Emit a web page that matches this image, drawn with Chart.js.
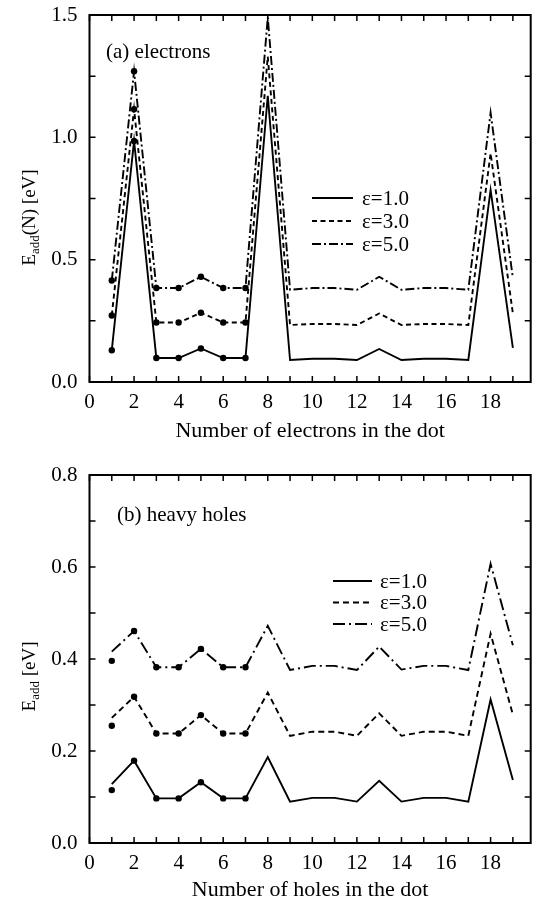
<!DOCTYPE html>
<html>
<head>
<meta charset="utf-8">
<script src="https://cdn.jsdelivr.net/npm/chart.js@4.4.0/dist/chart.umd.min.js"></script>
<style>
  html, body { margin: 0; padding: 0; background: #fff; }
  canvas { display: block; position: absolute; left: 0; }
  #chartA { top: 0; }
  #chartB { top: 450px; }
</style>
</head>
<body>
<canvas id="chartA" width="537" height="450"></canvas>
<canvas id="chartB" width="537" height="453"></canvas>
<script>
// number of particles in the dot
var particleCount = [1, 2, 3, 4, 5, 6, 7, 8, 9, 10, 11, 12, 13, 14, 15, 16, 17, 18, 19];
var dotCount = [1, 2, 3, 4, 5, 6, 7];
var xTickValues = [0, 2, 4, 6, 8, 10, 12, 14, 16, 18];
var seriesLabels = ['ε=1.0', 'ε=3.0', 'ε=5.0'];

// (a) electrons, addition energy in eV
var electronsEps1 = [0.13, 0.985, 0.098, 0.098, 0.137, 0.098, 0.098, 1.17, 0.09, 0.095, 0.095, 0.09, 0.135, 0.09, 0.095, 0.095, 0.09, 0.785, 0.139];
var electronsEps3 = [0.272, 1.115, 0.243, 0.243, 0.283, 0.243, 0.243, 1.33, 0.233, 0.237, 0.237, 0.233, 0.28, 0.233, 0.237, 0.237, 0.233, 0.935, 0.28];
var electronsEps5 = [0.415, 1.27, 0.384, 0.384, 0.43, 0.384, 0.384, 1.49, 0.377, 0.384, 0.384, 0.377, 0.43, 0.377, 0.384, 0.384, 0.377, 1.10, 0.425];
var electronDotsEps1 = [0.13, 0.985, 0.098, 0.098, 0.137, 0.098, 0.098];
var electronDotsEps3 = [0.272, 1.115, 0.243, 0.243, 0.283, 0.243, 0.243];
var electronDotsEps5 = [0.415, 1.27, 0.384, 0.384, 0.43, 0.384, 0.384];

// (b) heavy holes
var holesEps1 = [0.128, 0.179, 0.097, 0.097, 0.132, 0.097, 0.097, 0.187, 0.09, 0.098, 0.098, 0.09, 0.135, 0.09, 0.098, 0.098, 0.09, 0.312, 0.137];
var holesEps3 = [0.272, 0.318, 0.238, 0.238, 0.278, 0.238, 0.238, 0.327, 0.233, 0.242, 0.242, 0.233, 0.282, 0.233, 0.242, 0.242, 0.233, 0.455, 0.279];
var holesEps5 = [0.416, 0.461, 0.382, 0.382, 0.422, 0.382, 0.382, 0.472, 0.376, 0.385, 0.385, 0.376, 0.427, 0.377, 0.385, 0.385, 0.376, 0.607, 0.43];
var holeDotsEps1 = [0.115, 0.179, 0.097, 0.097, 0.132, 0.097, 0.097];
var holeDotsEps3 = [0.255, 0.318, 0.238, 0.238, 0.278, 0.238, 0.238];
var holeDotsEps5 = [0.396, 0.461, 0.382, 0.382, 0.422, 0.382, 0.382];

var serif = '"Liberation Serif", "Times New Roman", serif';

function pts(xs, ys) {
    return xs.map(function (x, i) { return { x: x, y: ys[i] } })
}

function lineSet(label, xs, ys, dash) {
    return {
        label: label, data: pts(xs, ys), borderColor: '#000', borderWidth: 1.9,
        borderDash: dash, pointRadius: 0, fill: false, tension: 0
    }
}

function dotSet(xs, ys) {
    return {
        data: pts(xs, ys), showLine: false, pointRadius: 3.2,
        pointBackgroundColor: '#000', pointBorderWidth: 0
    }
}

// box, inward ticks, panel label, key and y title
var framePlugin = {
    id: 'frame',
    afterDatasetsDraw: function (chart, args, o) {
        var ctx = chart.ctx, a = chart.chartArea
        var xs = chart.scales.x, ys = chart.scales.y
        ctx.save()
        ctx.strokeStyle = '#000'
        ctx.lineWidth = 2
        ctx.strokeRect(a.left, a.top, a.right - a.left, a.bottom - a.top)

        ctx.lineWidth = 1.5
        ctx.beginPath()
        for (var v = Math.ceil(xs.min); v <= xs.max; v += 1) {
            var px = xs.getPixelForValue(v)
            ctx.moveTo(px, a.bottom); ctx.lineTo(px, a.bottom - o.tick)
            ctx.moveTo(px, a.top); ctx.lineTo(px, a.top + o.tick)
        }
        var n = Math.round((ys.max - ys.min) / o.yMinor)
        for (var i = 0; i <= n; i++) {
            var py = ys.getPixelForValue(ys.min + i * o.yMinor)
            ctx.moveTo(a.left, py); ctx.lineTo(a.left + o.tick, py)
            ctx.moveTo(a.right, py); ctx.lineTo(a.right - o.tick, py)
        }
        ctx.stroke()

        ctx.fillStyle = '#000'
        ctx.font = '21px ' + serif
        ctx.textAlign = 'left'
        ctx.textBaseline = 'middle'
        ctx.fillText(o.panel, a.left + o.panelX, a.top + o.panelY)

        // key
        var k = 0
        chart.data.datasets.forEach(function (ds) {
            if (!ds.label) return
            var y = o.keyY + k * o.keyGap
            ctx.lineWidth = ds.borderWidth
            ctx.setLineDash(ds.borderDash || [])
            ctx.beginPath()
            ctx.moveTo(o.keyX1, y); ctx.lineTo(o.keyX2, y)
            ctx.stroke()
            ctx.setLineDash([])
            ctx.fillText(ds.label, o.keyText, y + 1)
            k++
        })

        // y title with subscript
        var big = '19px ' + serif, small = '13px ' + serif
        var parts = o.yTitle
        ctx.font = big; var w1 = ctx.measureText(parts[0]).width
        ctx.font = small; var w2 = ctx.measureText(parts[1]).width
        ctx.font = big; var w3 = ctx.measureText(parts[2]).width
        ctx.translate(o.yTitleX, (a.top + a.bottom) / 2 + o.yTitleShift)
        ctx.rotate(-Math.PI / 2)
        ctx.textBaseline = 'alphabetic'
        var s = -(w1 + w2 + w3) / 2
        ctx.font = big; ctx.fillText(parts[0], s, 7)
        ctx.font = small; ctx.fillText(parts[1], s + w1, 11)
        ctx.font = big; ctx.fillText(parts[2], s + w1 + w2, 7)
        ctx.restore()
    }
}

function options(p) {
    return {
        responsive: false, animation: false, devicePixelRatio: 1,
        layout: { padding: { top: p.top, right: 6.3, left: 0, bottom: 0 } },
        plugins: { legend: { display: false }, tooltip: { enabled: false }, frame: p.frame },
        scales: {
            x: {
                type: 'linear', min: 0, max: 19.8,
                grid: { display: false, drawTicks: false }, border: { display: false },
                afterBuildTicks: function (s) { s.ticks = xTickValues.map(function (v) { return { value: v } }) },
                afterFit: function (s) { s.height = p.xHeight; s.paddingLeft = 0; s.paddingRight = 0 },
                ticks: { font: { family: serif, size: 21 }, color: '#000', padding: 8, maxRotation: 0, autoSkip: false },
                title: { display: true, text: p.xTitle, font: { family: serif, size: 22 }, color: '#000', padding: { top: 0, bottom: p.xTitlePad } }
            },
            y: {
                min: 0, max: p.yMax,
                grid: { display: false, drawTicks: false }, border: { display: false },
                afterFit: function (s) { s.width = 89.5; s.paddingTop = 0; s.paddingBottom = 0 },
                ticks: {
                    stepSize: p.yStep, font: { family: serif, size: 21 }, color: '#000', padding: 12,
                    callback: function (v) { return v.toFixed(1) }
                }
            }
        }
    }
}

new Chart(document.getElementById('chartA'), {
    type: 'line',
    data: {
        datasets: [
            lineSet(seriesLabels[0], particleCount, electronsEps1, []),
            lineSet(seriesLabels[1], particleCount, electronsEps3, [5, 3.5]),
            lineSet(seriesLabels[2], particleCount, electronsEps5, [9, 3, 2, 3]),
            dotSet(dotCount, electronDotsEps1),
            dotSet(dotCount, electronDotsEps3),
            dotSet(dotCount, electronDotsEps5)
        ]
    },
    options: options({
        top: 15, xHeight: 68, xTitle: 'Number of electrons in the dot', xTitlePad: 6,
        yMax: 1.5, yStep: 0.5,
        frame: {
            tick: 6, yMinor: 0.25, panel: '(a) electrons', panelX: 16.5, panelY: 37,
            keyX1: 312, keyX2: 353, keyText: 362, keyY: 198, keyGap: 23,
            yTitle: ['E', 'add', '(N) [eV]'], yTitleX: 28, yTitleShift: 19
        }
    }),
    plugins: [framePlugin]
})

new Chart(document.getElementById('chartB'), {
    type: 'line',
    data: {
        datasets: [
            lineSet(seriesLabels[0], particleCount, holesEps1, []),
            lineSet(seriesLabels[1], particleCount, holesEps3, [6, 4]),
            lineSet(seriesLabels[2], particleCount, holesEps5, [12, 4, 2, 4]),
            dotSet(dotCount, holeDotsEps1),
            dotSet(dotCount, holeDotsEps3),
            dotSet(dotCount, holeDotsEps5)
        ]
    },
    options: options({
        top: 25, xHeight: 60, xTitle: 'Number of holes in the dot', xTitlePad: 0,
        yMax: 0.8, yStep: 0.2,
        frame: {
            tick: 6, yMinor: 0.1, panel: '(b) heavy holes', panelX: 27.5, panelY: 40,
            keyX1: 333, keyX2: 372, keyText: 380, keyY: 131, keyGap: 21.5,
            yTitle: ['E', 'add', ' [eV]'], yTitleX: 28, yTitleShift: 17.5
        }
    }),
    plugins: [framePlugin]
})
</script>
</body>
</html>
